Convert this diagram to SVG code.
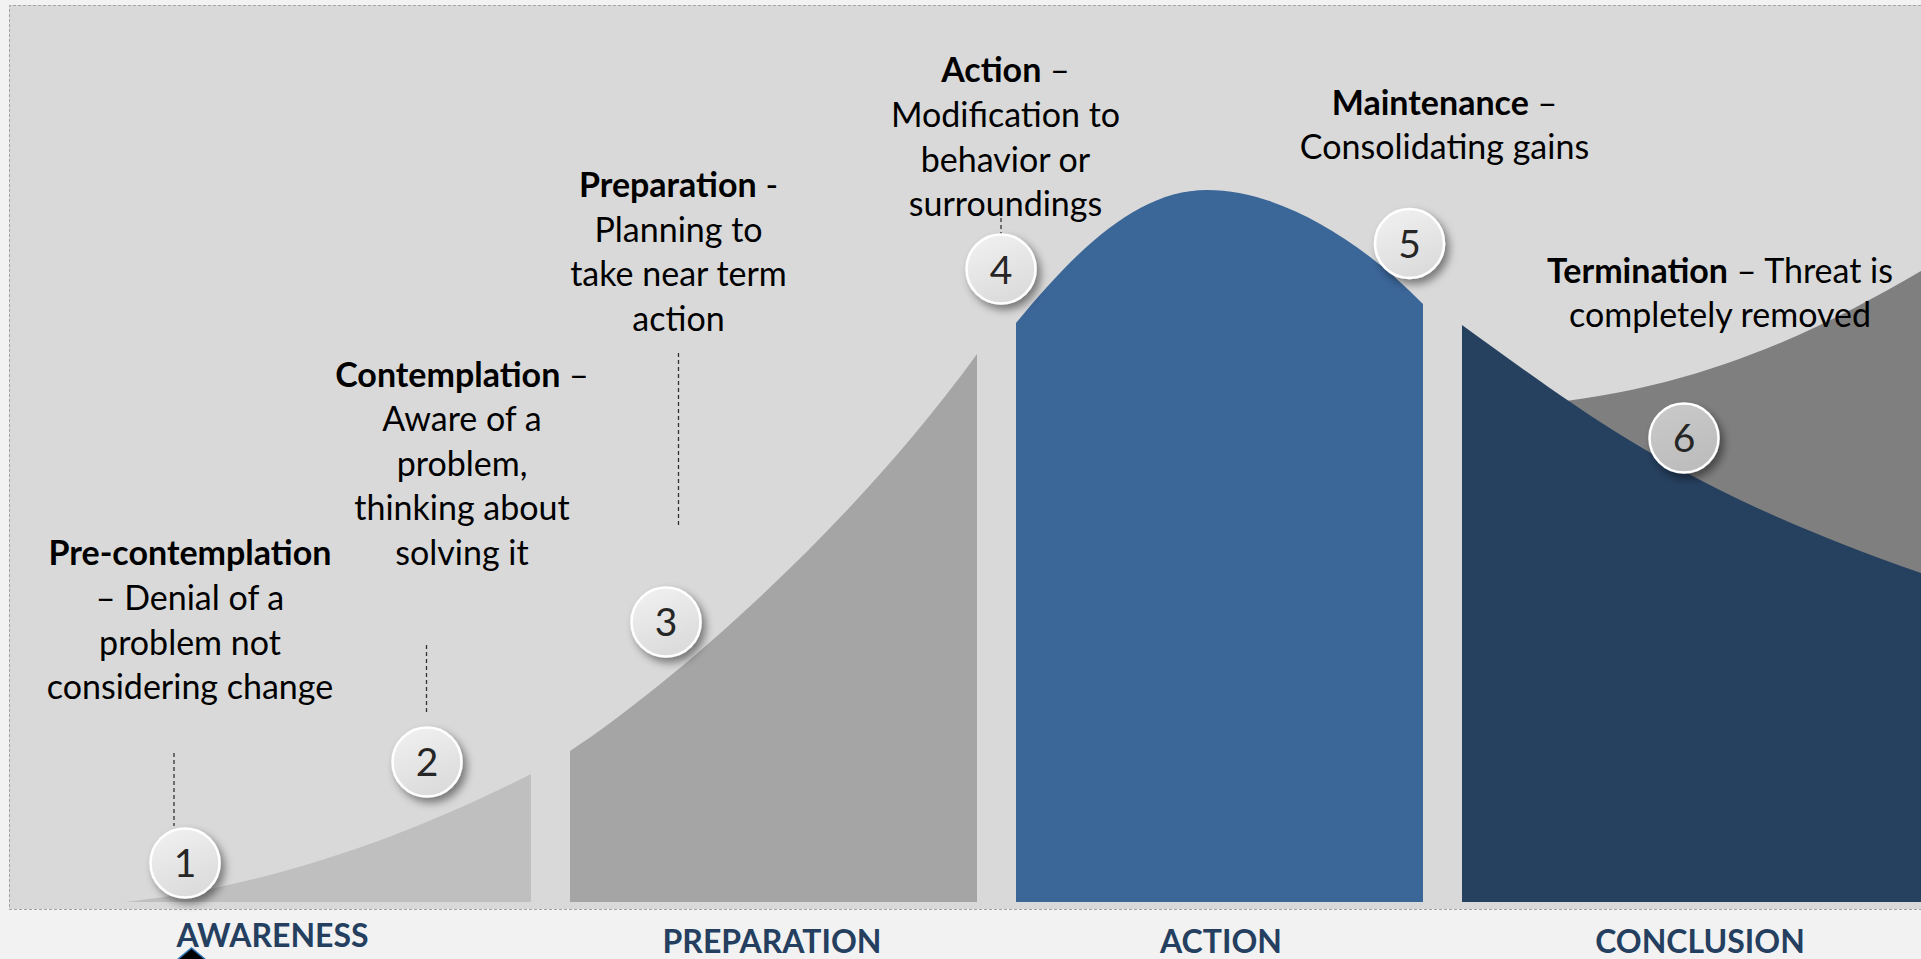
<svg xmlns="http://www.w3.org/2000/svg" width="1921" height="959" viewBox="0 0 1921 959">
  <defs>
    <style>
      .txt { font-family: Lato, "Open Sans", "DejaVu Sans", sans-serif; font-size: 34px; fill: #000; text-anchor: middle; }
      .b { font-weight: 700; }
      .num { font-family: Lato, "Open Sans", sans-serif; font-size: 39px; fill: #262626; text-anchor: middle; }
      .phase { font-family: Lato, "Open Sans", sans-serif; font-weight: 700; font-size: 32px; fill: #243f60; text-anchor: middle; }
      .lead { stroke: #333; stroke-width: 1.3; stroke-dasharray: 4 3; fill: none; }
      .badge { fill: url(#badgeFill); stroke: #fff; stroke-width: 2.5; filter: url(#shadow); }
    </style>
    <linearGradient id="badgeFill" x1="0" y1="0" x2="0.4" y2="1">
      <stop offset="0" stop-color="#f2f2f2"/>
      <stop offset="1" stop-color="#dcdcdc"/>
    </linearGradient>
    <linearGradient id="badgeDark" x1="0" y1="0" x2="0.4" y2="1">
      <stop offset="0" stop-color="#cacaca"/>
      <stop offset="1" stop-color="#bdbdbd"/>
    </linearGradient>
    <filter id="shadow" x="-40%" y="-40%" width="190%" height="190%">
      <feDropShadow dx="4" dy="5" stdDeviation="4" flood-color="#000" flood-opacity="0.45"/>
    </filter>
  </defs>

  <!-- page and chart panel -->
  <rect x="0" y="0" width="1921" height="959" fill="#f2f2f2"/>
  <rect x="9" y="5" width="1912" height="904" fill="#d9d9d9"/>
  <path d="M1921,5.5 H9.5 V909.5 H1921" fill="none" stroke="#a3a3a3" stroke-width="1" stroke-dasharray="3 2"/>

  <!-- stage areas under the curve -->
  <g id="stage-awareness">
    <path d="M125,902 C280,885 420,830 531,774 L531,902 Z" fill="#bfbfbf"/>
  </g>
  <g id="stage-preparation">
    <path d="M570,751 C670,685 850,530 977,354 L977,902 L570,902 Z" fill="#a5a5a5"/>
  </g>
  <g id="stage-action">
    <path d="M1016,323 C1080,245 1140,190 1207,190 C1280,190 1360,240 1423,304 L1423,902 L1016,902 Z" fill="#3b6698"/>
  </g>
  <g id="stage-conclusion">
    <path d="M1530,405 C1700,390 1820,330 1921,271 L1921,902 L1530,902 Z" fill="#7f7f7f"/>
    <path d="M1462,325 C1580,410 1680,490 1921,573 L1921,902 L1462,902 Z" fill="#26405f"/>
  </g>

  <!-- dashed leader lines from captions to markers -->
  <g id="connectors">
    <line class="lead" x1="174" y1="753" x2="174" y2="826"/>
    <line class="lead" x1="426.5" y1="645" x2="426.5" y2="712"/>
    <line class="lead" x1="678.5" y1="353" x2="678.5" y2="528"/>
    <line class="lead" x1="1001" y1="218" x2="1001" y2="238"/>
  </g>

  <!-- numbered markers -->
  <g id="marker-1">
    <circle class="badge" cx="185" cy="863" r="34.5"/>
    <text class="num" x="185" y="877">1</text>
  </g>
  <g id="marker-2">
    <circle class="badge" cx="427" cy="762" r="34.5"/>
    <text class="num" x="427" y="776">2</text>
  </g>
  <g id="marker-3">
    <circle class="badge" cx="666" cy="622" r="34.5"/>
    <text class="num" x="666" y="636">3</text>
  </g>
  <g id="marker-4">
    <circle class="badge" cx="1001" cy="269" r="34.5"/>
    <text class="num" x="1001" y="284">4</text>
  </g>
  <g id="marker-5">
    <circle class="badge" cx="1409.5" cy="243.5" r="34.5"/>
    <text class="num" x="1409.5" y="258">5</text>
  </g>
  <g id="marker-6">
    <circle class="badge" style="fill:url(#badgeDark)" cx="1684" cy="438" r="34.5"/>
    <text class="num" x="1684" y="452">6</text>
  </g>

  <!-- stage captions -->
  <g id="caption-precontemplation">
    <text x="190" y="565" class="txt b">Pre-contemplation</text>
    <text x="190" y="610" class="txt">– Denial of a</text>
    <text x="190" y="655" class="txt">problem not</text>
    <text x="190" y="699" class="txt">considering change</text>
  </g>
  <g id="caption-contemplation">
    <text x="462" y="387" class="txt"><tspan class="b">Contemplation</tspan> –</text>
    <text x="462" y="431" class="txt">Aware of a</text>
    <text x="462" y="476" class="txt">problem,</text>
    <text x="462" y="520" class="txt">thinking about</text>
    <text x="462" y="565" class="txt">solving it</text>
  </g>
  <g id="caption-preparation">
    <text x="678.5" y="197" class="txt"><tspan class="b">Preparation</tspan> -</text>
    <text x="678.5" y="242" class="txt">Planning to</text>
    <text x="678.5" y="286" class="txt">take near term</text>
    <text x="678.5" y="331" class="txt">action</text>
  </g>
  <g id="caption-action">
    <text x="1005.5" y="82" class="txt"><tspan class="b">Action</tspan> –</text>
    <text x="1005.5" y="127" class="txt">Modification to</text>
    <text x="1005.5" y="172" class="txt">behavior or</text>
    <text x="1005.5" y="216" class="txt">surroundings</text>
  </g>
  <g id="caption-maintenance">
    <text x="1444.5" y="115" class="txt"><tspan class="b">Maintenance</tspan> –</text>
    <text x="1444.5" y="159" class="txt">Consolidating gains</text>
  </g>
  <g id="caption-termination">
    <text x="1720" y="283" class="txt"><tspan class="b">Termination</tspan> – Threat is</text>
    <text x="1720" y="327" class="txt">completely removed</text>
  </g>

  <!-- phase labels along the bottom -->
  <g id="phase-awareness">
    <text class="phase" x="272.5" y="947">AWARENESS</text>
    <polygon points="177,960 191.5,948 206,960" fill="#000" stroke="#2e75b6" stroke-width="1.5"/>
  </g>
  <g id="phase-preparation">
    <text class="phase" x="772" y="953">PREPARATION</text>
  </g>
  <g id="phase-action">
    <text class="phase" x="1221" y="953">ACTION</text>
  </g>
  <g id="phase-conclusion">
    <text class="phase" x="1700" y="953">CONCLUSION</text>
  </g>
</svg>
